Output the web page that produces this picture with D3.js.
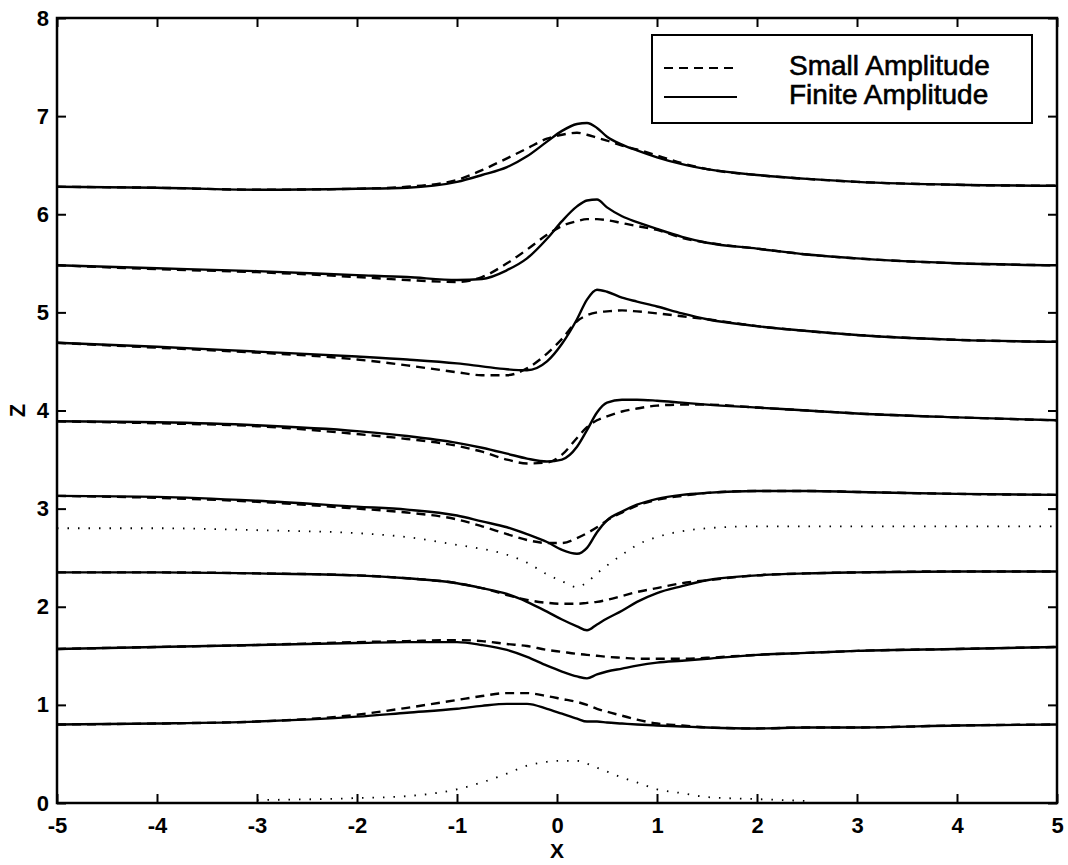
<!DOCTYPE html>
<html>
<head>
<meta charset="utf-8">
<script src="https://cdn.jsdelivr.net/npm/d3@7"></script>
<style>
  body { margin: 0; background: #fff; }
  svg { display: block; }
  text { font-family: "Liberation Sans", Arial, sans-serif; fill: #000; }
</style>
</head>
<body>
<svg id="chart"></svg>
<script>
// shared x grid used for every curve
const xGrid = [-5, -4, -3, -2, -1.5, -1, -0.75, -0.5, -0.3, -0.1, 0.05, 0.2, 0.3, 0.4, 0.5, 0.65, 0.8, 1, 1.25, 1.5, 2, 2.5, 3, 4, 5];

// finite amplitude (solid), bottom to top
const finite1 = [0.80, 0.81, 0.83, 0.88, 0.92, 0.96, 0.99, 1.01, 1.01, 0.96, 0.91, 0.86, 0.83, 0.83, 0.82, 0.81, 0.80, 0.79, 0.78, 0.77, 0.76, 0.77, 0.77, 0.79, 0.80];
const finite2 = [1.57, 1.59, 1.61, 1.63, 1.64, 1.64, 1.61, 1.56, 1.49, 1.40, 1.34, 1.29, 1.27, 1.31, 1.34, 1.37, 1.40, 1.43, 1.45, 1.47, 1.51, 1.53, 1.55, 1.57, 1.59];
const finite3 = [2.35, 2.35, 2.34, 2.32, 2.29, 2.24, 2.19, 2.13, 2.05, 1.95, 1.87, 1.80, 1.76, 1.82, 1.88, 1.96, 2.05, 2.14, 2.21, 2.27, 2.32, 2.34, 2.35, 2.36, 2.36];
const finite4 = [3.13, 3.12, 3.08, 3.02, 2.99, 2.93, 2.87, 2.81, 2.74, 2.66, 2.58, 2.54, 2.60, 2.76, 2.88, 2.97, 3.04, 3.10, 3.14, 3.16, 3.18, 3.18, 3.17, 3.15, 3.14];
const finite5 = [3.89, 3.88, 3.85, 3.79, 3.74, 3.67, 3.62, 3.56, 3.51, 3.48, 3.50, 3.63, 3.80, 3.98, 4.08, 4.11, 4.11, 4.10, 4.08, 4.06, 4.03, 4.00, 3.97, 3.93, 3.90];
const finite6 = [4.69, 4.65, 4.60, 4.55, 4.52, 4.48, 4.45, 4.42, 4.41, 4.50, 4.68, 4.93, 5.13, 5.23, 5.21, 5.15, 5.11, 5.06, 4.99, 4.93, 4.86, 4.81, 4.77, 4.72, 4.70];
const finite7 = [5.48, 5.45, 5.42, 5.38, 5.36, 5.33, 5.34, 5.43, 5.55, 5.75, 5.93, 6.08, 6.14, 6.15, 6.07, 5.98, 5.92, 5.85, 5.77, 5.71, 5.65, 5.59, 5.55, 5.50, 5.48];
const finite8 = [6.28, 6.27, 6.25, 6.26, 6.27, 6.33, 6.40, 6.48, 6.59, 6.74, 6.85, 6.92, 6.93, 6.88, 6.79, 6.71, 6.65, 6.58, 6.51, 6.46, 6.40, 6.36, 6.33, 6.30, 6.29];

// small amplitude (dashed), bottom to top
const small1 = [0.80, 0.81, 0.83, 0.90, 0.97, 1.05, 1.09, 1.12, 1.12, 1.09, 1.06, 1.03, 1.00, 0.96, 0.93, 0.89, 0.85, 0.81, 0.79, 0.77, 0.76, 0.77, 0.77, 0.79, 0.80];
const small2 = [1.57, 1.59, 1.61, 1.64, 1.65, 1.66, 1.65, 1.62, 1.60, 1.56, 1.54, 1.52, 1.51, 1.50, 1.49, 1.48, 1.47, 1.47, 1.47, 1.48, 1.51, 1.53, 1.55, 1.57, 1.59];
const small3 = [2.35, 2.35, 2.34, 2.32, 2.29, 2.24, 2.19, 2.12, 2.07, 2.04, 2.03, 2.03, 2.04, 2.05, 2.07, 2.11, 2.15, 2.19, 2.24, 2.27, 2.32, 2.34, 2.35, 2.36, 2.36];
const small4 = [3.13, 3.11, 3.07, 3.00, 2.96, 2.89, 2.82, 2.74, 2.68, 2.65, 2.65, 2.70, 2.75, 2.81, 2.88, 2.96, 3.03, 3.09, 3.13, 3.16, 3.18, 3.18, 3.17, 3.15, 3.14];
const small5 = [3.89, 3.87, 3.84, 3.76, 3.71, 3.64, 3.58, 3.50, 3.46, 3.47, 3.55, 3.72, 3.83, 3.90, 3.94, 3.99, 4.02, 4.05, 4.06, 4.06, 4.03, 4.00, 3.97, 3.93, 3.90];
const small6 = [4.69, 4.64, 4.59, 4.52, 4.46, 4.39, 4.36, 4.36, 4.43, 4.58, 4.73, 4.91, 4.97, 5.00, 5.01, 5.02, 5.01, 4.99, 4.96, 4.93, 4.86, 4.81, 4.77, 4.72, 4.70];
const small7 = [5.48, 5.44, 5.41, 5.36, 5.33, 5.31, 5.36, 5.50, 5.64, 5.79, 5.88, 5.93, 5.95, 5.95, 5.94, 5.91, 5.88, 5.84, 5.76, 5.71, 5.65, 5.59, 5.55, 5.50, 5.48];
const small8 = [6.28, 6.27, 6.25, 6.26, 6.28, 6.35, 6.45, 6.57, 6.67, 6.77, 6.81, 6.83, 6.81, 6.78, 6.75, 6.70, 6.66, 6.60, 6.52, 6.46, 6.40, 6.36, 6.33, 6.30, 6.29];

// dotted reference curves
const dottedLow  = [null, null, 0.03, 0.05, 0.07, 0.14, 0.21, 0.30, 0.38, 0.42, 0.43, 0.43, 0.40, 0.36, 0.32, 0.26, 0.21, 0.14, 0.10, 0.06, 0.04, 0.02, null, null, null];
const dottedHigh = [2.80, 2.80, 2.78, 2.75, 2.71, 2.63, 2.59, 2.53, 2.45, 2.33, 2.26, 2.20, 2.25, 2.34, 2.42, 2.53, 2.63, 2.71, 2.77, 2.80, 2.82, 2.82, 2.82, 2.82, 2.82];

const xTicks = [-5, -4, -3, -2, -1, 0, 1, 2, 3, 4, 5];
const yTicks = [0, 1, 2, 3, 4, 5, 6, 7, 8];
const legendLabels = ["Small Amplitude", "Finite Amplitude"];

const W = 1068, H = 865;
const plot = { left: 57, right: 1057, top: 18, bottom: 803 };

const svg = d3.select("#chart").attr("width", W).attr("height", H);

const x = d3.scaleLinear().domain([-5, 5]).range([plot.left, plot.right]);
const y = d3.scaleLinear().domain([0, 8]).range([plot.bottom, plot.top]);

const line = d3.line()
    .defined(d => d[1] != null)
    .x(d => x(d[0]))
    .y(d => y(d[1]))
    .curve(d3.curveMonotoneX);

const pairs = arr => xGrid.map((v, i) => [v, arr[i]]);

const curves = svg.append("g");

// dotted
[dottedLow, dottedHigh].forEach(arr => {
    curves.append("path")
        .attr("d", line(pairs(arr)))
        .attr("fill", "none")
        .attr("stroke", "#000")
        .attr("stroke-width", 1.8)
        .attr("stroke-dasharray", "1.5,9");
});

// dashed
[small1, small2, small3, small4, small5, small6, small7, small8].forEach(arr => {
    curves.append("path")
        .attr("d", line(pairs(arr)))
        .attr("fill", "none")
        .attr("stroke", "#000")
        .attr("stroke-width", 2.4)
        .attr("stroke-dasharray", "9,6");
});

// solid
[finite1, finite2, finite3, finite4, finite5, finite6, finite7, finite8].forEach(arr => {
    curves.append("path")
        .attr("d", line(pairs(arr)))
        .attr("fill", "none")
        .attr("stroke", "#000")
        .attr("stroke-width", 2.4);
});

// axes with inward ticks on all four sides
const fmt = d => String(d);   // plain hyphen for negatives, like the original
const xAxis = svg.append("g")
    .attr("transform", `translate(0,${plot.bottom})`)
    .call(d3.axisBottom(x).tickValues(xTicks).tickFormat(fmt).tickSize(-9).tickSizeOuter(0).tickPadding(14));
const yAxis = svg.append("g")
    .attr("transform", `translate(${plot.left},0)`)
    .call(d3.axisLeft(y).tickValues(yTicks).tickFormat(fmt).tickSize(-9).tickSizeOuter(0).tickPadding(8));
svg.append("g")
    .attr("transform", `translate(0,${plot.top})`)
    .call(d3.axisTop(x).tickValues(xTicks).tickSize(-9).tickSizeOuter(0).tickFormat(""));
svg.append("g")
    .attr("transform", `translate(${plot.right},0)`)
    .call(d3.axisRight(y).tickValues(yTicks).tickSize(-9).tickSizeOuter(0).tickFormat(""));

svg.selectAll(".domain").remove();
svg.selectAll(".tick line").attr("stroke", "#000").attr("stroke-width", 2);
[xAxis, yAxis].forEach(g => g.selectAll("text")
    .style("font-size", "22px")
    .style("font-weight", "bold")
    .style("font-family", '"Liberation Sans", Arial, sans-serif'));

svg.append("rect")
    .attr("x", plot.left).attr("y", plot.top)
    .attr("width", plot.right - plot.left).attr("height", plot.bottom - plot.top)
    .attr("fill", "none").attr("stroke", "#000").attr("stroke-width", 2.5);

// axis labels
svg.append("text")
    .attr("x", (plot.left + plot.right) / 2)
    .attr("y", 858)
    .attr("text-anchor", "middle")
    .style("font-size", "21px")
    .style("font-weight", "bold")
    .text("X");

svg.append("text")
    .attr("transform", `translate(25,${(plot.top + plot.bottom) / 2}) rotate(-90)`)
    .attr("text-anchor", "middle")
    .style("font-size", "22px")
    .style("font-weight", "bold")
    .text("Z");

// legend
const legend = svg.append("g");
legend.append("rect")
    .attr("x", 652).attr("y", 35)
    .attr("width", 1032 - 652).attr("height", 88)
    .attr("fill", "#fff").attr("stroke", "#000").attr("stroke-width", 2);

legendLabels.forEach((label, i) => {
    const yy = 68 + i * 29;
    legend.append("line")
        .attr("x1", 664).attr("x2", 737)
        .attr("y1", yy).attr("y2", yy)
        .attr("stroke", "#000").attr("stroke-width", 2.2)
        .attr("stroke-dasharray", i === 0 ? "9,6" : null);
    legend.append("text")
        .attr("x", 789).attr("y", yy + 7)
        .style("font-size", "28px")
        .style("stroke", "#000").style("stroke-width", 0.6)
        .text(label);
});
</script>
</body>
</html>
